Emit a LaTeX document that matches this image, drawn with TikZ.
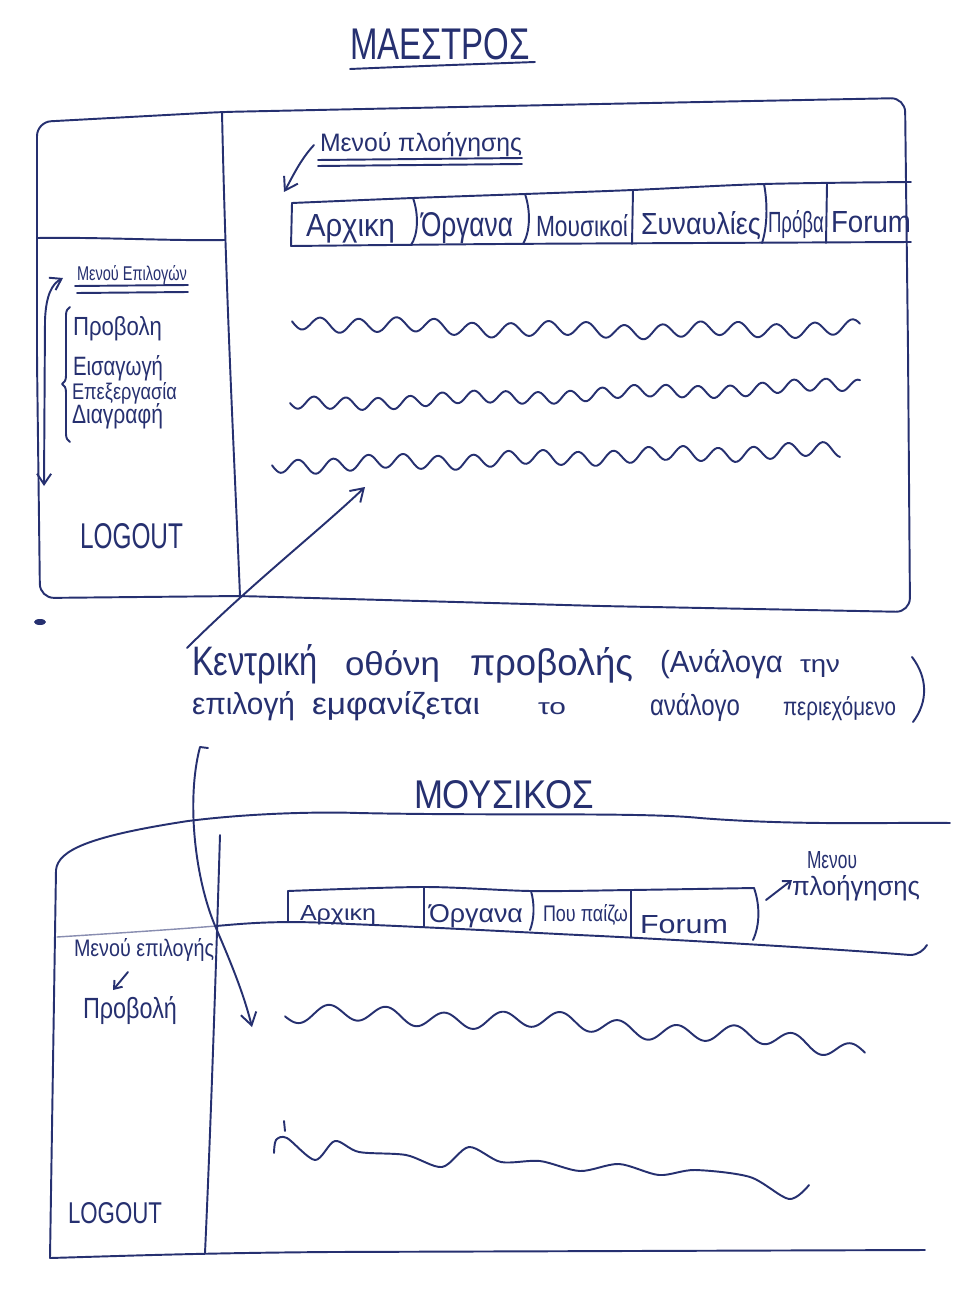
\documentclass[tikz,border=0pt]{standalone}
\usepackage{fontspec}
\setmainfont{Liberation Sans}
\usepackage{graphicx}
\usetikzlibrary{arrows.meta,decorations.pathreplacing}
\definecolor{inkc}{RGB}{38,48,112}
\newlength\pxu
\setlength\pxu{0.02cm}
% handwritten-size label: width, height (in px units), text
\newcommand\hw[3]{\resizebox{#1\pxu}{#2\pxu}{#3}}

\begin{document}
\begin{tikzpicture}[x=0.02cm,y=-0.02cm,
  pen/.style={draw=inkc, line width=1.1pt, line cap=round, line join=round},
  faintpen/.style={draw=inkc!55, line width=0.8pt, line cap=round},
  lbl/.style={anchor=base west, inner sep=0pt, outer sep=0pt, text=inkc},
  arrowend/.style={-{Straight Barb[length=7pt,width=9pt]}},
]
% paper
\fill[white] (0,0) rectangle (953,1294);
\useasboundingbox (0,0) rectangle (953,1294);

%% ---------------- upper screen: MAESTROS ----------------
\node[lbl] (t1) at (350,60) {\hw{180}{31}{ΜΑΕΣΤΡΟΣ}};
\draw[pen] (350,69) .. controls (420,66) and (480,64) .. (535,62);

% outer frame
\draw[pen, rounded corners=8pt] (40,598) -- (37,360) -- (37,122) -- (222,112) -- (600,104) -- (905,98) -- (908,350) -- (910,612) -- (600,606) -- (240,596) -- cycle;
% left column divider and its header separator
\draw[pen] (222,112) .. controls (226,300) and (234,450) .. (240,596);
\draw[pen] (37,238) .. controls (100,237) and (170,241) .. (225,240);

% navigation tabs
\draw[pen] plot[smooth] coordinates {(292,203) (413,198) (525,194) (633,190) (764,184) (911,182)};
\draw[pen] plot[smooth] coordinates {(291,246) (500,244) (700,243) (911,242)};
\draw[pen] (292,203) -- (291,246);
\draw[pen] (413,198) .. controls (419,215) and (418,235) .. (411,245);
\draw[pen] (525,194) .. controls (531,212) and (530,232) .. (523,244);
\draw[pen] (633,190) -- (632,244);
\draw[pen] (764,184) .. controls (768,205) and (767,228) .. (762,243);
\draw[pen] (827,184) -- (826,243);
\node[lbl] (n1) at (306,236) {\hw{89}{22}{Αρχικη}};
\node[lbl] (n2) at (421,236) {\hw{92}{24}{Όργανα}};
\node[lbl] (n3) at (536,236) {\hw{92}{22}{Μουσικοί}};
\node[lbl] (n4) at (641,235) {\hw{120}{23}{Συναυλίες}};
\node[lbl] (n5) at (768,233) {\hw{56}{22}{Πρόβα}};
\node[lbl] (n6) at (831,232) {\hw{80}{21}{Forum}};

% navigation caption
\node[lbl] (navcap) at (320,152) {\hw{202}{19}{Μενού πλοήγησης}};
\draw[pen] (318,160) -- (522,158);
\draw[pen] (318,166) -- (522,164);
\coordinate (navA) at (314,145);
\coordinate (navB) at (284,192);
\draw[pen, arrowend] (navA) .. controls (300,160) and (292,178) .. (navB);

% left selection menu
\node[lbl] (selcap) at (77,280) {\hw{110}{15}{Μενού Επιλογών}};
\draw[pen] (75,286) -- (188,285);
\draw[pen] (77,293) -- (188,292);
\coordinate (selA) at (44,486);
\coordinate (selB) at (63,278);
\draw[pen, {Straight Barb[length=6pt,width=8pt]}-{Straight Barb[length=6pt,width=8pt]}] (selA) -- (45,320) .. controls (46,295) and (52,284) .. (selB);
\draw[pen, decorate, decoration={brace, amplitude=0.16cm, aspect=0.43}] (70,442) -- (70,307);
\node[lbl] (s1) at (73,335) {\hw{89}{19}{Προβολη}};
\node[lbl] (s2) at (73,375) {\hw{90}{20}{Εισαγωγή}};
\node[lbl] (s3) at (72,399) {\hw{105}{17}{Επεξεργασία}};
\node[lbl] (s4) at (72,423) {\hw{91}{20}{Διαγραφή}};
\node[lbl] (lo1) at (80,548) {\hw{103}{25}{LOGOUT}};

% content placeholders (scribbled lines)
\draw[pen] plot[domain=292:860, samples=260, smooth] (\x, {322 + 6*((\x-292)/568) + 5*sin(180*((\x-292)/568)) + 7*sin(360*((\x-292)/38)) + 2*sin(360*(\x/150))});
\draw[pen] plot[domain=290:860, samples=260, smooth] (\x, {405 - 20*((\x-290)/570) + 6*sin(360*((\x-290)/32)) + 2*sin(360*(\x/170))});
\draw[pen] plot[domain=272:840, samples=260, smooth] (\x, {466 - 16*((\x-272)/568) + 7*sin(360*((\x-272)/35)) + 2*sin(360*(\x/140))});

% ink blot
\fill[inkc] (40,622) ellipse [x radius=0.12cm, y radius=0.06cm];

%% ---------------- annotation ----------------
\node[lbl] (w1) at (192,675) {\hw{126}{31}{Κεντρική}};
\node[lbl] (w2) at (345,675) {\hw{95}{25}{οθόνη}};
\node[lbl] (w3) at (470,675) {\hw{163}{28}{προβολής}};
\node[lbl] (w4) at (660,672) {\hw{123}{23}{(Ανάλογα}};
\node[lbl] (w5) at (800,672) {\hw{40}{13}{την}};
\node[lbl] (w6) at (192,714) {\hw{103}{23}{επιλογή}};
\node[lbl] (w7) at (312,714) {\hw{168}{23}{εμφανίζεται}};
\node[lbl] (w8) at (538,714) {\hw{28}{12}{το}};
\node[lbl] (w9) at (650,715) {\hw{90}{22}{ανάλογο}};
\node[lbl] (w10) at (783,715) {\hw{113}{19}{περιεχόμενο}};
\draw[pen] (912,657) .. controls (928,678) and (928,702) .. (913,722);
\coordinate (kA) at (187,648);
\coordinate (kB) at (365,487);
\draw[pen, arrowend] (kA) .. controls (250,585) and (320,530) .. (kB);

%% ---------------- lower screen: MOUSIKOS ----------------
\node[lbl] (t2) at (414,808) {\hw{180}{28}{ΜΟΥΣΙΚΟΣ}};

% frame
\draw[pen] (50,1258) -- (56,870) .. controls (58,850) and (90,836) .. (188,821) .. controls (260,812) and (330,812) .. (358,813) .. controls (500,816) and (640,812) .. (700,818) .. controls (800,826) and (900,822) .. (950,823);
\draw[pen] (50,1258) .. controls (120,1256) and (200,1253) .. (330,1252) -- (925,1250);
% left column divider
\draw[pen] (220,835) .. controls (218,900) and (212,1100) .. (205,1253);
% header separator
\draw[faintpen] (57,937) .. controls (120,933) and (180,929) .. (216,926);
\draw[pen] (216,926) .. controls (250,923) and (282,920) .. (350,924) .. controls (450,928) and (534,933) .. (600,936) .. controls (700,941) and (850,950) .. (910,955) .. controls (918,955) and (924,950) .. (927,945);

% navigation tabs
\draw[pen] plot[smooth] coordinates {(288,891) (424,887) (531,891) (631,890) (754,888)};
\draw[pen] (288,891) -- (288,922);
\draw[pen] (424,887) -- (424,927);
\draw[pen] (531,891) .. controls (535,905) and (534,920) .. (530,930);
\draw[pen] (631,890) -- (631,937);
\draw[pen] (754,888) .. controls (760,905) and (760,925) .. (753,940);
\node[lbl] (m1) at (300,920) {\hw{76}{15}{Αρχικη}};
\node[lbl] (m2) at (429,922) {\hw{94}{18}{Όργανα}};
\node[lbl] (m3) at (543,921) {\hw{85}{17}{Που παίζω}};
\node[lbl] (m4) at (640,933) {\hw{88}{18}{Forum}};

\node[lbl] (nav2a) at (807,868) {\hw{50}{17}{Μενου}};
\node[lbl] (nav2b) at (792,895) {\hw{128}{20}{πλοήγησης}};
\coordinate (nv1) at (766,900);
\coordinate (nv2) at (792,880);
\draw[pen, -{Straight Barb[length=4pt,width=6pt]}] (nv1) -- (nv2);

% left selection menu
\node[lbl] (sel2) at (74,956) {\hw{140}{18}{Μενού επιλογής}};
\coordinate (sv1) at (128,972);
\coordinate (sv2) at (113,990);
\draw[pen, -{Straight Barb[length=4pt,width=6pt]}] (sv1) -- (sv2);
\node[lbl] (p2) at (83,1018) {\hw{94}{22}{Προβολή}};
\node[lbl] (lo2) at (68,1223) {\hw{94}{21}{LOGOUT}};

% content placeholders (scribbled lines)
\draw[pen] plot[domain=285:865, samples=260, smooth] (\x, {1015 + 35*((\x-285)/580)*((\x-285)/580) + 8*sin(360*((\x-285)/58)) + 3*sin(360*(\x/200))});
\draw[pen] plot[smooth] coordinates {(274,1153) (276,1140) (287,1138) (315,1160) (335,1141) (359,1152) (406,1155) (442,1167) (469,1147) (501,1162) (540,1161) (580,1171) (619,1164) (659,1175) (695,1170) (750,1177) (789,1199) (809,1185)};
\draw[pen] (284,1121) -- (285,1131);

% long arrow from the annotation into the lower content area
\coordinate (bH) at (208,748);
\coordinate (bS) at (200,747);
\coordinate (bT) at (252,1027);
\draw[pen, arrowend] (bH) -- (bS) .. controls (186,800) and (195,880) .. (216,928) .. controls (232,965) and (244,995) .. (bT);

\end{tikzpicture}
\end{document}
